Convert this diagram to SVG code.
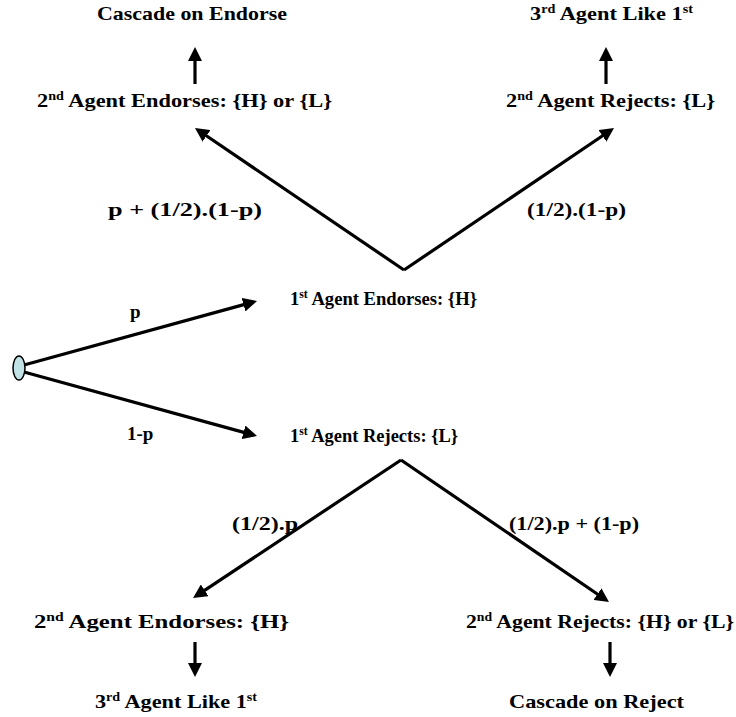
<svg xmlns="http://www.w3.org/2000/svg" width="736" height="717" viewBox="0 0 736 717">
<style>
text{font-family:"Liberation Serif","Times New Roman","DejaVu Serif",serif;font-weight:bold;font-size:19px;fill:#000}
.sup{font-size:12px}
.c{fill:none;stroke:#000;stroke-width:3.2}
</style>
<defs>
<marker id="ah" markerUnits="userSpaceOnUse" markerWidth="15" markerHeight="14" refX="6" refY="7" orient="auto">
<path d="M0,0 L14,7 L0,14 z" fill="#000"/>
</marker>
</defs>
<rect width="736" height="717" fill="#fff"/>
<g id="connectors">
<line class="c" x1="404" y1="270" x2="201.6" y2="132.5" marker-end="url(#ah)"/>
<line class="c" x1="404" y1="270" x2="607.4" y2="132.5" marker-end="url(#ah)"/>
<line class="c" x1="24" y1="365" x2="249.3" y2="303.1" marker-end="url(#ah)"/>
<line class="c" x1="24" y1="372" x2="249.3" y2="433.9" marker-end="url(#ah)"/>
<line class="c" x1="401" y1="460" x2="199.7" y2="593.6" marker-end="url(#ah)"/>
<line class="c" x1="401" y1="460" x2="602.4" y2="597.5" marker-end="url(#ah)"/>
<line class="c" x1="195" y1="84" x2="195" y2="55" marker-end="url(#ah)"/>
<line class="c" x1="606" y1="84" x2="606" y2="55" marker-end="url(#ah)"/>
<line class="c" x1="195" y1="642" x2="195" y2="669" marker-end="url(#ah)"/>
<line class="c" x1="610" y1="642" x2="610" y2="669" marker-end="url(#ah)"/>
</g>
<g id="start"><ellipse cx="19" cy="368" rx="6" ry="12" fill="#c2e3e6" stroke="#000" stroke-width="1.5"/></g>
<g id="n-cascade-endorse"><text x="97" y="20" textLength="190" lengthAdjust="spacingAndGlyphs">Cascade on Endorse</text></g>
<g id="n-2-endorses-hl"><text x="37" y="107" textLength="295" lengthAdjust="spacingAndGlyphs">2<tspan class="sup" dy="-7">nd</tspan><tspan dy="7"> Agent Endorses: {H} or {L}</tspan></text></g>
<g id="n-3-like-top"><text x="530" y="20" textLength="163" lengthAdjust="spacingAndGlyphs">3<tspan class="sup" dy="-7">rd</tspan><tspan dy="7"> Agent Like 1</tspan><tspan class="sup" dy="-7">st</tspan></text></g>
<g id="n-2-rejects-l"><text x="506" y="107" textLength="209" lengthAdjust="spacingAndGlyphs">2<tspan class="sup" dy="-7">nd</tspan><tspan dy="7"> Agent Rejects: {L}</tspan></text></g>
<g id="n-1-endorses"><text x="290" y="305" textLength="187" lengthAdjust="spacingAndGlyphs">1<tspan class="sup" dy="-7">st</tspan><tspan dy="7"> Agent Endorses: {H}</tspan></text></g>
<g id="n-1-rejects"><text x="290" y="442" textLength="168" lengthAdjust="spacingAndGlyphs">1<tspan class="sup" dy="-7">st</tspan><tspan dy="7"> Agent Rejects: {L}</tspan></text></g>
<g id="n-2-endorses-h"><text x="34" y="628" textLength="255" lengthAdjust="spacingAndGlyphs">2<tspan class="sup" dy="-7">nd</tspan><tspan dy="7"> Agent Endorses: {H}</tspan></text></g>
<g id="n-2-rejects-hl"><text x="466" y="628" textLength="268" lengthAdjust="spacingAndGlyphs">2<tspan class="sup" dy="-7">nd</tspan><tspan dy="7"> Agent Rejects: {H} or {L}</tspan></text></g>
<g id="n-3-like-bottom"><text x="95" y="708" textLength="162" lengthAdjust="spacingAndGlyphs">3<tspan class="sup" dy="-7">rd</tspan><tspan dy="7"> Agent Like 1</tspan><tspan class="sup" dy="-7">st</tspan></text></g>
<g id="n-cascade-reject"><text x="509" y="708" textLength="175" lengthAdjust="spacingAndGlyphs">Cascade on Reject</text></g>
<g id="labels">
<text x="108" y="216" textLength="154" lengthAdjust="spacingAndGlyphs">p + (1/2).(1-p)</text>
<text x="527" y="216" textLength="99" lengthAdjust="spacingAndGlyphs">(1/2).(1-p)</text>
<text x="130" y="318">p</text>
<text x="127" y="440">1-p</text>
<text x="232" y="530" textLength="66" lengthAdjust="spacingAndGlyphs">(1/2).p</text>
<text x="509" y="530" textLength="130" lengthAdjust="spacingAndGlyphs">(1/2).p + (1-p)</text>
</g>
</svg>
